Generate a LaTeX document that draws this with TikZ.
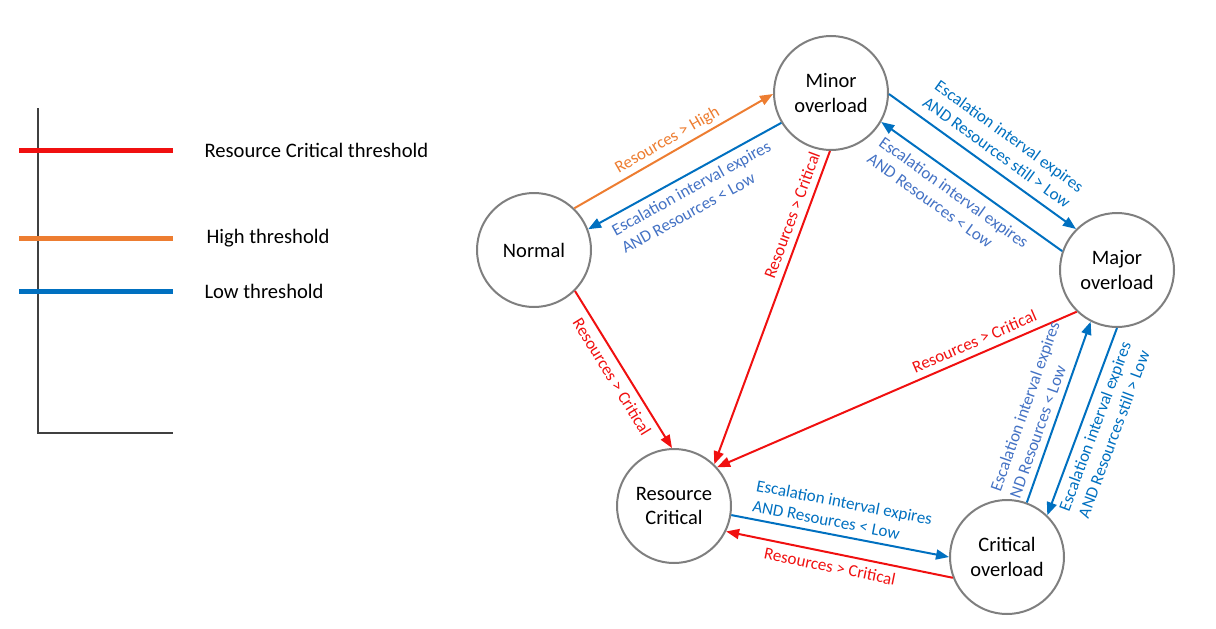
\documentclass[tikz,border=0pt]{standalone}
\usepackage{fontspec}
\setmainfont{Carlito}
\usetikzlibrary{arrows.meta}

\definecolor{critred}{RGB}{240,16,16}
\definecolor{highorange}{RGB}{237,125,49}
\definecolor{lowblue}{RGB}{0,112,192}
\definecolor{slateblue}{RGB}{68,114,196}
\definecolor{ringgray}{RGB}{127,127,127}
\definecolor{axisgray}{RGB}{64,64,64}

\tikzset{
  state/.style={draw=ringgray,line width=2pt,circle,fill=white,minimum size=114pt,
    inner sep=0pt,align=center,font=\fontsize{20.5}{24.5}\selectfont},
  trans/.style={line width=2pt,-{Triangle[length=13pt,width=10pt]}},
  cond/.style={sloped,align=left,font=\fontsize{17}{20.5}\selectfont,inner sep=6.5pt},
  legend/.style={anchor=west,font=\fontsize{20.6}{24}\selectfont},
}

\begin{document}
\begin{tikzpicture}[x=1pt,y=-1pt]
\useasboundingbox (0,0) rectangle (1216,629);

% legend
\draw [axisgray,line width=2pt] (38,108) -- (38,433) -- (173,433);
\draw [critred,line width=5pt]    (19,150) -- (173,150);
\draw [highorange,line width=5pt] (19,238) -- (173,238);
\draw [lowblue,line width=5pt]    (19,291) -- (173,291);
\node [legend] (critlabel) at (201,150) {Resource Critical threshold};
\node [legend] (highlabel) at (203,238) {High threshold};
\node [legend] (lowlabel)  at (201,291) {Low threshold};

% states
\node [state] (normal) at ( 534,250) {Normal};
\node [state] (minor)  at ( 831, 93) {Minor\\ overload};
\node [state] (major)  at (1117,270) {Major\\ overload};
\node [state] (rc)     at ( 674,506) {Resource\\ Critical};
\node [state] (crit)   at (1007,557) {Critical\\ overload};

% transitions
\draw [trans,highorange] (normal.46) --
    node[cond,above,inner sep=4pt,text=highorange] {Resources > High} (minor.181);
\draw [trans,lowblue] (minor.211) --
    node[cond,below,text=slateblue] {Escalation interval expires\\ AND Resources < Low} (normal.21);
\draw [trans,critred] (minor.269) --
    node[cond,above,pos=0.22,text=critred] {Resources > Critical} (rc.46);
\draw [trans,critred] (normal.315) --
    node[cond,below,text=critred] {Resources > Critical} (rc.92);
\draw [trans,lowblue] (minor.359) --
    node[cond,above,pos=0.53,inner sep=9pt,text=lowblue] {Escalation interval expires\\ AND Resources still > Low} (major.135);
\draw [trans,lowblue] (major.161) --
    node[cond,below,pos=0.55,inner sep=8pt,text=slateblue] {Escalation interval expires\\ AND Resources < Low} (minor.330);
\draw [trans,critred] (major.226) --
    node[cond,above,pos=0.27,text=critred] {Resources > Critical} (rc.42);
\draw [trans,lowblue] (major.270) --
    node[cond,below,pos=0.5,text=lowblue] {Escalation interval expires\\ AND Resources still > Low} (crit.46);
\draw [trans,lowblue] (crit.70) --
    node[cond,above,pos=0.47,text=slateblue] {Escalation interval expires\\ ND Resources < Low} (major.243);
\draw [trans,lowblue] (rc.351) --
    node[cond,above,pos=0.49,text=lowblue] {Escalation interval expires\\ AND Resources < Low} (crit.180);
\draw [trans,critred] (crit.201) --
    node[cond,below,pos=0.53,text=critred] {Resources > Critical} (rc.334);
\end{tikzpicture}
\end{document}
